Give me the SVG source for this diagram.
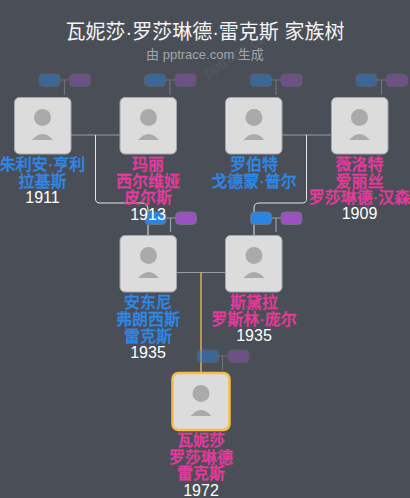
<svg xmlns="http://www.w3.org/2000/svg" width="410" height="498" viewBox="0 0 410 498">
<defs>
<style>
text{font-family:"Liberation Sans","Noto Sans CJK SC",sans-serif;text-anchor:middle}
.n{font-size:16px;font-weight:500;stroke-width:.3}
.m{fill:#2d88ea;stroke:#2d88ea}.f{fill:#e8399f;stroke:#e8399f}
.y{fill:#fff;font-size:16px}
.card{fill:#dcdcdc;stroke:#a4a7ac;stroke-width:1}
.head{fill:#aaa}
.pb{fill:#2b84e3;stroke:#6b7380;stroke-width:1}
.pp{fill:#9b51bf;stroke:#6b7380;stroke-width:1}
.dim{opacity:.45}
.l{fill:none;stroke:#9a9ea6;stroke-width:1.2}
.w{fill:none;stroke:#e4e6e9;stroke-width:1}
</style>
<g id="face"><circle cx="28.5" cy="20.500" r="8.5" class="head"/><path d="M18 43Q28.500 31 39 43Z" class="head"/></g>
</defs>
<rect width="410" height="498" fill="#4a4f57"/>
<text transform="translate(242 56) rotate(-32)" font-size="15" fill="#fff" opacity=".05">pptrace.com</text>
<text x="205" y="39" font-size="20" fill="#f4f4f4">瓦妮莎·罗莎琳德·雷克斯 家族树</text>
<text x="205" y="59" font-size="13" fill="#a2a5aa">由 pptrace.com 生成</text>
<g id="connectors">
<path class="l" d="M71 135H119.500M225 135H331M176.500 272.500H225"/>
<path class="w" d="M95.500 135V199Q95.500 203 100 203H142Q148 203 148 210V235"/>
<path class="w" d="M306.500 135V199Q306.500 203 302 203H259Q254 203 254 208V235"/>
<path d="M201 272.500V372" stroke="#d4a94f" stroke-width="1.600" fill="none"/>
<g class="dim"><path class="l" d="M60 80H69M64.500 80V95M165 80H175M170 80V95M271 80H281M276 80V95M376 80H387M381.500 80V95M218 356H227M222.500 356V370"/></g>
<path class="l" d="M166 218H175M170.500 218V232M271 218H281M276 218V232"/>
</g>
<g id="p1"><g class="dim"><rect x="39" y="74" width="21" height="12.500" rx="4" class="pb"/><rect x="69.500" y="74" width="21" height="12.500" rx="4" class="pp"/></g><rect x="14.500" y="97.500" width="56.500" height="56.500" rx="5" class="card"/><use href="#face" x="14" y="97"/><text class="n m" x="42.500" y="170">朱利安·亨利</text><text class="n m" x="42.500" y="187">拉基斯</text><text class="y" x="42.500" y="203">1911</text></g>
<g id="p2"><g class="dim"><rect x="144.500" y="74" width="21" height="12.500" rx="4" class="pb"/><rect x="175" y="74" width="21" height="12.500" rx="4" class="pp"/></g><rect x="120" y="97.500" width="56.500" height="56.500" rx="5" class="card"/><use href="#face" x="120" y="97"/><text class="n f" x="148" y="170">玛丽</text><text class="n f" x="148" y="187">西尔维娅</text><text class="n f" x="148" y="203">皮尔斯</text></g>
<g id="p3"><g class="dim"><rect x="250.500" y="74" width="21" height="12.500" rx="4" class="pb"/><rect x="281" y="74" width="21" height="12.500" rx="4" class="pp"/></g><rect x="225.500" y="97.500" width="56.500" height="56.500" rx="5" class="card"/><use href="#face" x="225.500" y="97"/><text class="n m" x="254" y="170">罗伯特</text><text class="n m" x="254" y="187">戈德蒙·普尔</text></g>
<g id="p4"><g class="dim"><rect x="356" y="74" width="21" height="12.500" rx="4" class="pb"/><rect x="386.500" y="74" width="21" height="12.500" rx="4" class="pp"/></g><rect x="331.500" y="97.500" width="56.500" height="56.500" rx="5" class="card"/><use href="#face" x="331" y="97"/><text class="n f" x="359.500" y="170">薇洛特</text><text class="n f" x="359.500" y="187">爱丽丝</text><text class="n f" x="359.500" y="203">罗莎琳德·汉森</text><text class="y" x="359.500" y="219">1909</text></g>
<g id="p5"><rect x="145" y="212" width="21" height="12.500" rx="4" class="pb"/><rect x="175.500" y="212" width="21" height="12.500" rx="4" class="pp"/><rect x="120" y="235.500" width="56.500" height="56.500" rx="5" class="card"/><use href="#face" x="120" y="235"/><text class="n m" x="148" y="308">安东尼</text><text class="n m" x="148" y="325">弗朗西斯</text><text class="n m" x="148" y="342">雷克斯</text><text class="y" x="148" y="358">1935</text></g>
<g id="p2-year"><text class="y" x="148" y="220">1913</text></g>
<g id="p6"><rect x="250.500" y="212" width="21" height="12.500" rx="4" class="pb"/><rect x="281" y="212" width="21" height="12.500" rx="4" class="pp"/><rect x="225.500" y="235.500" width="56.500" height="56.500" rx="5" class="card"/><use href="#face" x="225.500" y="235"/><text class="n f" x="254" y="308">斯黛拉</text><text class="n f" x="254" y="325">罗斯林·庞尔</text><text class="y" x="254" y="341">1935</text></g>
<g id="p7"><g class="dim"><rect x="197.500" y="350" width="21" height="12.500" rx="4" class="pb"/><rect x="228" y="350" width="21" height="12.500" rx="4" class="pp"/></g><rect x="172.500" y="373" width="57" height="57" rx="6" class="card" style="stroke:#f5bd45;stroke-width:2.500"/><use href="#face" x="172.500" y="373"/><text class="n f" x="201" y="446">瓦妮莎</text><text class="n f" x="201" y="463">罗莎琳德</text><text class="n f" x="201" y="479">雷克斯</text><text class="y" x="201" y="496">1972</text></g>
</svg>
